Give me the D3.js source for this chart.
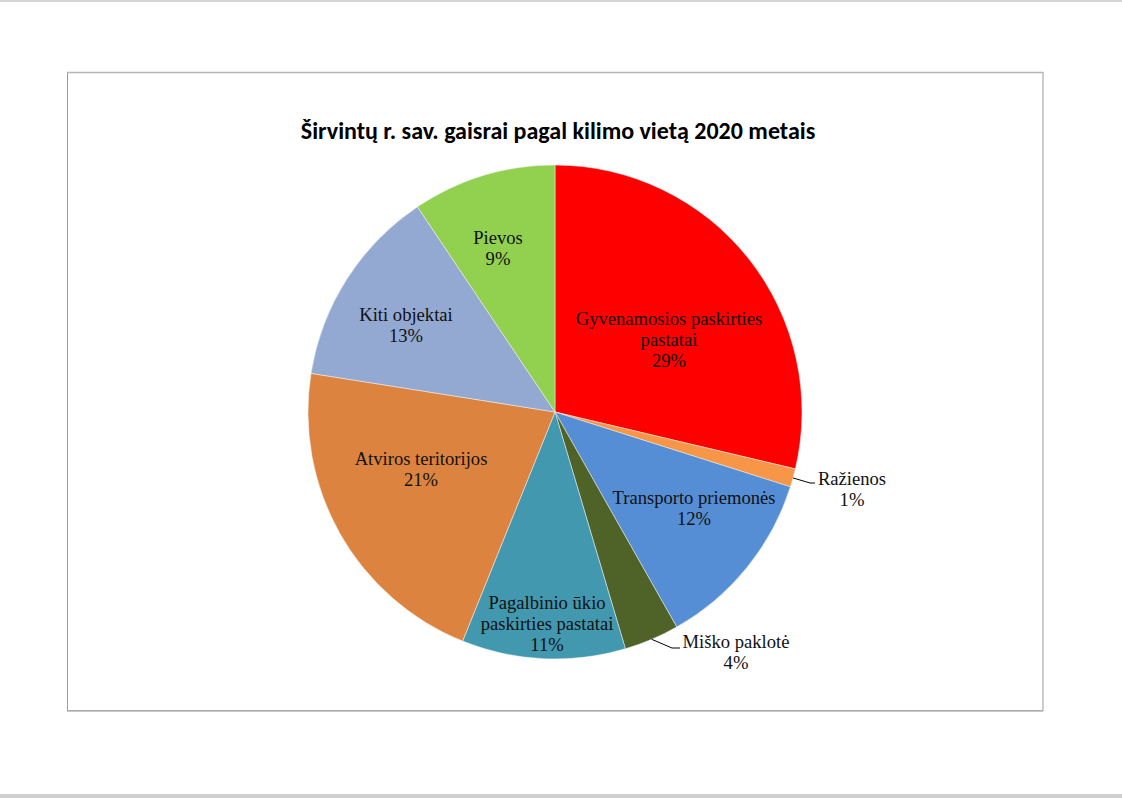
<!DOCTYPE html>
<html>
<head>
<meta charset="utf-8">
<script src="https://cdn.jsdelivr.net/npm/d3@7/dist/d3.min.js"></script>
<style>
  html, body { margin: 0; padding: 0; background: #fff; }
  svg { display: block; }
</style>
</head>
<body>
<script>
// ---- Data ----
const categories = [
  "Gyvenamosios paskirties pastatai",
  "Ražienos",
  "Transporto priemonės",
  "Miško paklotė",
  "Pagalbinio ūkio paskirties pastatai",
  "Atviros teritorijos",
  "Kiti objektai",
  "Pievos"
];
const values = [28.7, 1.2, 11.9, 3.6, 10.7, 21.4, 13.1, 9.4];
const title = "Širvintų r. sav. gaisrai pagal kilimo vietą 2020 metais";

// ---- Styles / layout (not data) ----
const colors = ["#FF0000", "#F79646", "#558ED5", "#4F6228", "#4198AF", "#DC843F", "#93A9D1", "#92D050"];
const labelLines = [
  ["Gyvenamosios paskirties", "pastatai"],
  ["Ražienos"],
  ["Transporto priemonės"],
  ["Miško paklotė"],
  ["Pagalbinio ūkio", "paskirties pastatai"],
  ["Atviros teritorijos"],
  ["Kiti objektai"],
  ["Pievos"]
];
const labelOffsets = [
  [114, -94], [297, 66], [139, 85], [181, 229],
  [-8, 190], [-134, 46], [-149, -98], [-57, -175]
];
const leaderElbows = [null, [255, 71], null, [117, 236], null, null, null, null];
const leaderEnds   = [null, [260, 71], null, [125, 236], null, null, null, null];

const W = 1122, H = 798;
const cx = 555, cy = 412, R = 247;
const lineH = 21;

const svg = d3.select("body").append("svg").attr("width", W).attr("height", H);

// page decorations
svg.append("rect").attr("x", 0).attr("y", 0).attr("width", W).attr("height", 2).attr("fill", "#d6d6d6");
svg.append("rect").attr("x", 0).attr("y", 794).attr("width", W).attr("height", 4).attr("fill", "#cfcfcf");

// chart frame
svg.append("rect").attr("x", 67.5).attr("y", 72.5).attr("width", 975.5).attr("height", 638)
  .attr("fill", "#fff").attr("stroke", "#9a9a9a").attr("stroke-width", 1);
svg.append("line").attr("x1", 67).attr("x2", 1043).attr("y1", 72.5).attr("y2", 72.5)
  .attr("stroke", "#b5b5b5").attr("stroke-width", 1.5);
svg.append("line").attr("x1", 67).attr("x2", 1043).attr("y1", 711).attr("y2", 711)
  .attr("stroke", "#b5b5b5").attr("stroke-width", 1.5);

// title
svg.append("text").attr("x", 558).attr("y", 130)
  .attr("text-anchor", "middle").attr("dominant-baseline", "central")
  .style("font-family", "Carlito, Calibri, Lato, 'Open Sans', sans-serif")
  .style("font-weight", "bold").style("font-size", "24px").attr("fill", "#000")
  .text(title);

const total = d3.sum(values);
const fmt = d3.format(".0%");
const data = categories.map((c, i) => ({ name: c, value: values[i], i }));

const pie = d3.pie().value(d => d.value).sort(null).startAngle(0).endAngle(2 * Math.PI);
const arcs = pie(data);
const arc = d3.arc().innerRadius(0).outerRadius(R);
const edgeArc = d3.arc().innerRadius(R).outerRadius(R);

const g = svg.append("g").attr("transform", `translate(${cx},${cy})`);

g.selectAll("path.slice").data(arcs).join("path")
  .attr("class", "slice")
  .attr("d", arc)
  .attr("fill", d => colors[d.data.i])
  .attr("stroke", "#f4f4f4").attr("stroke-width", 0.7).attr("stroke-opacity", 0.7);

// leader lines
arcs.forEach(d => {
  const i = d.data.i;
  if (!leaderElbows[i]) return;
  const p0 = edgeArc.centroid(d);
  const pts = [p0, leaderElbows[i], leaderEnds[i]];
  g.append("path").attr("d", d3.line()(pts))
    .attr("fill", "none").attr("stroke", "#000").attr("stroke-width", 1);
});

// labels
arcs.forEach(d => {
  const i = d.data.i;
  const lines = labelLines[i].concat([fmt(d.data.value / total)]);
  const [ox, oy] = labelOffsets[i];
  const t = g.append("text")
    .attr("text-anchor", "middle")
    .style("font-family", "'Liberation Serif', 'Times New Roman', serif")
    .style("font-size", "18.6px").attr("fill", "#111");
  lines.forEach((ln, k) => {
    t.append("tspan").attr("x", ox).attr("y", oy + k * lineH)
      .attr("dominant-baseline", "central").text(ln);
  });
});
</script>
</body>
</html>
